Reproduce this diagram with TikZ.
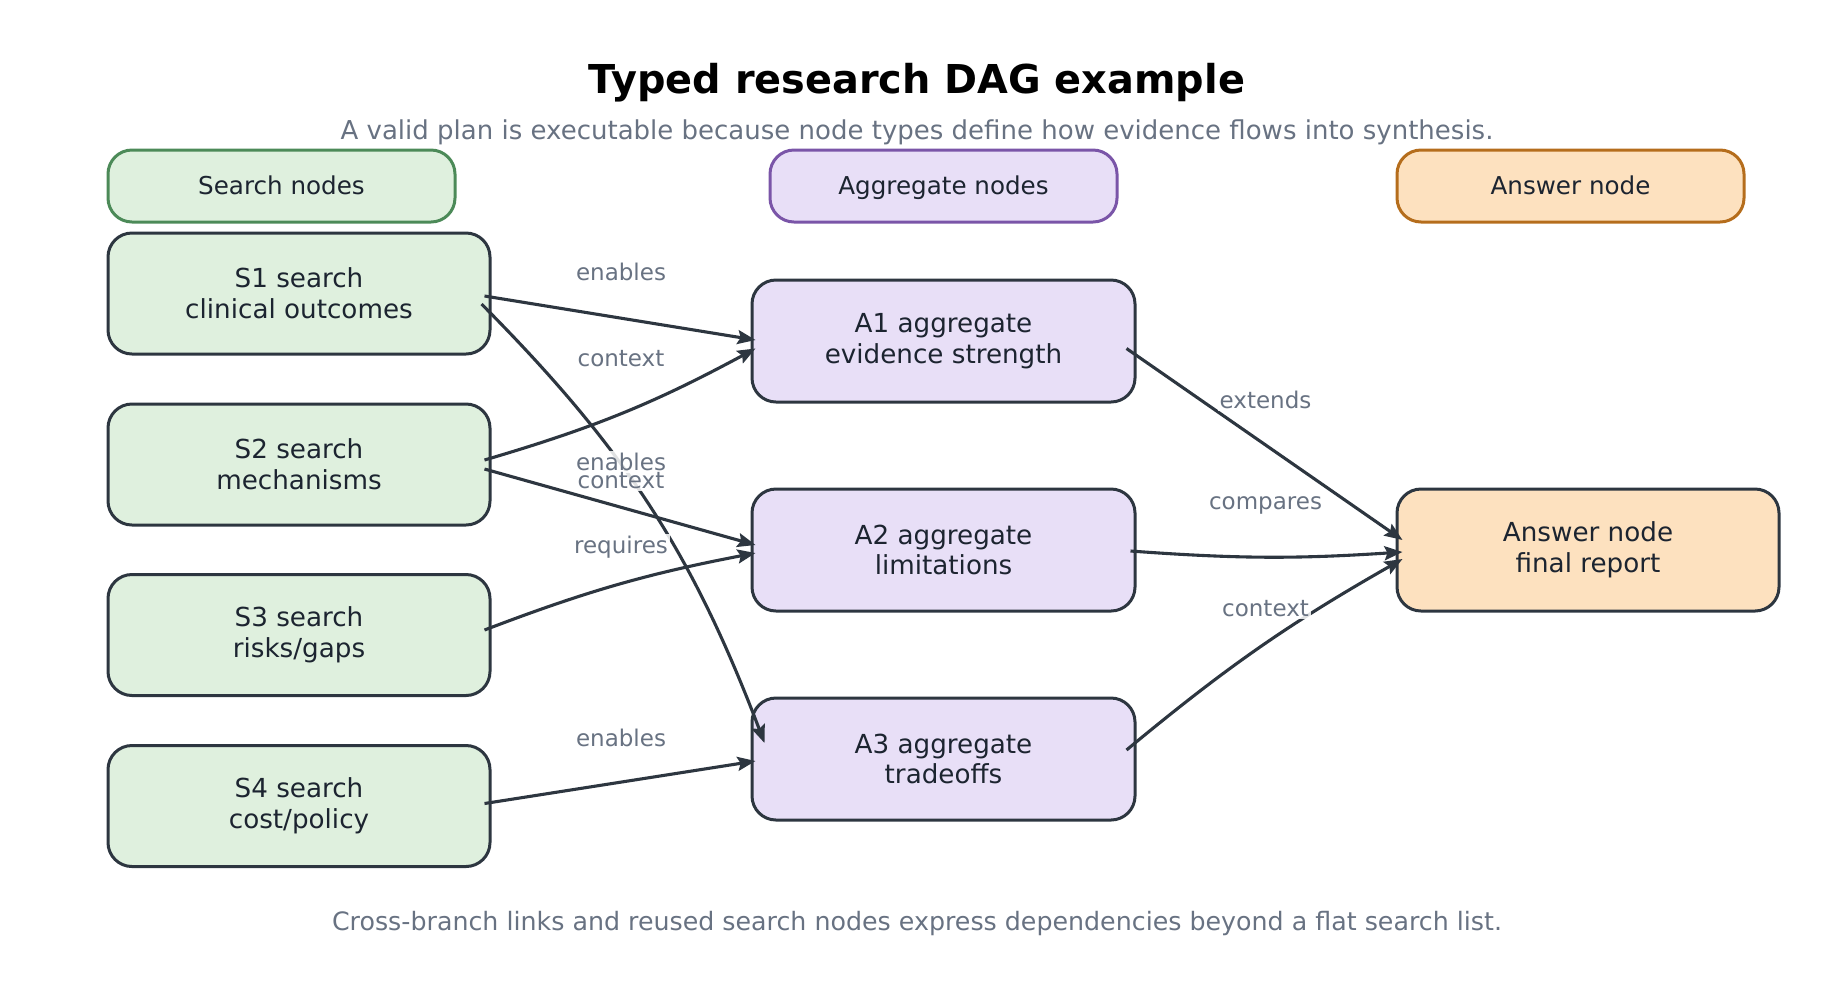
\documentclass[tikz,border=0pt]{standalone}
\usepackage{fontspec}
\setmainfont{DejaVu Sans}
\usetikzlibrary{arrows.meta,calc}
\definecolor{edgec}{HTML}{2D3640}
\definecolor{labc}{HTML}{687282}
\definecolor{txtc}{HTML}{1C2430}
\definecolor{gfill}{HTML}{DFF0DE}
\definecolor{gdraw}{HTML}{4C8A58}
\definecolor{pfill}{HTML}{E8DFF7}
\definecolor{pdraw}{HTML}{7A55A8}
\definecolor{ofill}{HTML}{FDE1BF}
\definecolor{odraw}{HTML}{B56D1C}
\tikzset{
  box/.style={draw=edgec, line width=1.5pt, rounded corners=12pt, align=center,
    text=txtc, font=\fontsize{13.1}{15.3}\selectfont, inner sep=0pt},
  snode/.style={box, fill=gfill, minimum width=191pt, minimum height=60.5pt},
  anode/.style={box, fill=pfill, minimum width=191.5pt, minimum height=61pt},
  rnode/.style={box, fill=ofill, minimum width=191pt, minimum height=61pt},
  legend/.style={line width=1.5pt, rounded corners=12pt, text=txtc,
    font=\fontsize{12.3}{14}\selectfont, minimum width=173.5pt, minimum height=36pt,
    inner sep=0pt, text height=9pt, text depth=0.3pt},
  edge/.style={draw=edgec, line width=1.55pt, -{Stealth[length=9pt,width=7pt,inset=1.5pt]}},
  lbl/.style={fill=white, fill opacity=0.85, text opacity=1, text=labc,
    font=\fontsize{11.5}{13}\selectfont, inner sep=1pt},
}
\begin{document}
\begin{tikzpicture}[x=0.5pt,y=-0.5pt]
\useasboundingbox (0,0) rectangle (1834,992);
% titles
\node[font=\bfseries\fontsize{19.9}{23}\selectfont, text=black] (title) at (917,83) {Typed research DAG example};
\node[font=\fontsize{13}{15}\selectfont, text=labc] (sub) at (917,132.5) {A valid plan is executable because node types define how evidence flows into synthesis.};
\node[font=\fontsize{12.65}{15}\selectfont, text=labc] (foot) at (917,923.5) {Cross-branch links and reused search nodes express dependencies beyond a flat search list.};
% legend
\node[legend, draw=gdraw, fill=gfill] (L1) at (281.5,186) {Search nodes};
\node[legend, draw=pdraw, fill=pfill] (L2) at (943.5,186) {Aggregate nodes};
\node[legend, draw=odraw, fill=ofill] (L3) at (1570.5,186) {Answer node};
% nodes
\node[snode] (S1) at (299,293.5) {S1 search\\clinical outcomes};
\node[snode] (S2) at (299,464.5) {S2 search\\mechanisms};
\node[snode] (S3) at (299,635) {S3 search\\risks/gaps};
\node[snode] (S4) at (299,806) {S4 search\\cost/policy};
\node[anode] (A1) at (943.5,341) {A1 aggregate\\evidence strength};
\node[anode] (A2) at (943.5,550) {A2 aggregate\\limitations};
\node[anode] (A3) at (943.5,759) {A3 aggregate\\tradeoffs};
\node[rnode] (R) at (1588,550) {Answer node\\final report};
% edges
\draw[edge] ($(S1.east)+(-7,2.5)$) -- ($(A1.west)+(5,-1)$);
\draw[edge] ($(S1.east)+(-10,10.5)$) to[bend left=12] ($(A3.west)+(14,-16)$);
\draw[edge] ($(S2.east)+(-7,-4.5)$) to[bend right=6] ($(A1.west)+(5,7.5)$);
\draw[edge] ($(S2.east)+(-7,4.5)$) -- ($(A2.west)+(5,-5)$);
\draw[edge] ($(S3.east)+(-7,-5)$) to[bend left=5] ($(A2.west)+(5,3)$);
\draw[edge] ($(S4.east)+(-7,-2.5)$) -- ($(A3.west)+(5,2)$);
\draw[edge] ($(A1.east)+(-10,7.5)$) -- ($(R.west)+(7,-10)$);
\draw[edge] ($(A2.east)+(-6,1)$) to[bend right=4] ($(R.west)+(7,2)$);
\draw[edge] ($(A3.east)+(-10,-9)$) to[bend left=5] ($(R.west)+(7,9)$);
% labels
\node[lbl] (e1) at (621,272) {enables};
\node[lbl] (e2) at (621,462) {enables};
\node[lbl] (e3) at (621,359) {context};
\node[lbl] (e4) at (621,481) {context};
\node[lbl] (e5) at (621,547) {requires};
\node[lbl] (e6) at (621,738) {enables};
\node[lbl] (e7) at (1265.5,400) {extends};
\node[lbl] (e8) at (1265.5,505) {compares};
\node[lbl] (e9) at (1265.5,609) {context};
\end{tikzpicture}
\end{document}
